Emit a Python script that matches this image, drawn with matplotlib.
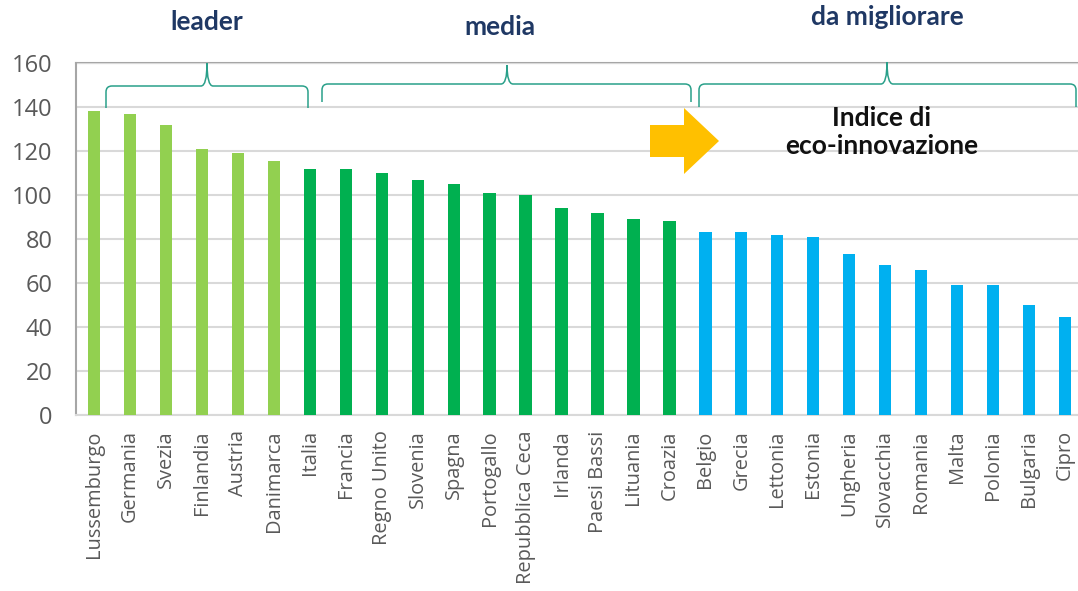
import matplotlib
matplotlib.use("Agg")
import matplotlib.pyplot as plt
from matplotlib.path import Path
from matplotlib.patches import PathPatch, FancyArrow
import numpy as np

countries = ["Lussemburgo", "Germania", "Svezia", "Finlandia", "Austria", "Danimarca",
             "Italia", "Francia", "Regno Unito", "Slovenia", "Spagna", "Portogallo",
             "Repubblica Ceca", "Irlanda", "Paesi Bassi", "Lituania", "Croazia",
             "Belgio", "Grecia", "Lettonia", "Estonia", "Ungheria", "Slovacchia",
             "Romania", "Malta", "Polonia", "Bulgaria", "Cipro"]
values = [138, 137, 132, 121, 119, 115.5,
          112, 112, 110, 107, 105, 101, 100, 94, 92, 89, 88,
          83, 83, 82, 81, 73, 68, 65.7, 59, 59, 49.8, 44.7]
groups = ["leader"] * 6 + ["media"] * 11 + ["da migliorare"] * 11
group_colors = {"leader": "#92D050", "media": "#00B050", "da migliorare": "#00B0F0"}
yticks = [0, 20, 40, 60, 80, 100, 120, 140, 160]

W, H = 1078, 591
fig = plt.figure(figsize=(W / 100, H / 100), dpi=100)
ax = fig.add_axes([76 / W, (H - 415) / H, (W - 76) / W, 352 / H])

x = np.arange(len(countries))
ax.bar(x, values, width=0.34, color=[group_colors[g] for g in groups], zorder=3)

ax.set_ylim(0, 160)
ax.set_xlim(-0.5, len(countries) - 0.5 - 0.14)
ax.set_yticks(yticks)
ax.set_yticklabels([str(t) for t in yticks], fontsize=17, color="#595959", family="Open Sans")
ax.set_xticks(x)
ax.set_xticklabels(countries, rotation=90, fontsize=14.4, color="#595959", family="Open Sans")
ax.tick_params(axis="both", length=0)
ax.tick_params(axis="x", pad=11)
ax.tick_params(axis="y", pad=17)
ax.grid(axis="y", color="#D9D9D9", linewidth=1.5, zorder=0)
for s in ["top", "right"]:
    ax.spines[s].set_visible(False)
ax.spines["left"].set_color("#A6A6A6")
ax.spines["left"].set_linewidth(1.5)
ax.spines["bottom"].set_color("#D9D9D9")
ax.spines["bottom"].set_linewidth(1.5)
ax.axhline(160, color="#A6A6A6", linewidth=1.5, zorder=1, clip_on=False)


def px(xp, yp):
    return (xp / W, 1 - yp / H)


def brace(x0, x1, xm, ybot_l, ybot_r, yh, ytop):
    r = 6
    verts = [px(x0, ybot_l), px(x0, yh + r), px(x0, yh), px(x0 + r, yh),
             px(xm - r, yh), px(xm, yh), px(xm, ytop),
             px(xm, ytop), px(xm, yh), px(xm + r, yh),
             px(x1 - r, yh), px(x1, yh), px(x1, yh + r), px(x1, ybot_r)]
    codes = [Path.MOVETO, Path.LINETO, Path.CURVE3, Path.CURVE3,
             Path.LINETO, Path.CURVE3, Path.CURVE3,
             Path.MOVETO, Path.CURVE3, Path.CURVE3,
             Path.LINETO, Path.CURVE3, Path.CURVE3, Path.LINETO]
    p = PathPatch(Path(verts, codes), transform=fig.transFigure, fill=False,
                  edgecolor="#2AA08A", linewidth=1.1)
    fig.add_artist(p)


brace(106, 308, 207, 108, 108, 86, 63)
brace(322, 691, 507, 102, 102, 84, 65)
brace(699, 1076, 887, 107, 107, 84, 62)

hdr = dict(fontsize=19, fontweight="bold", color="#1F3864", family="Lato",
           ha="center", va="center", transform=fig.transFigure)
fig.text(*px(207, 22), "leader", **hdr)
fig.text(*px(500, 27), "media", **hdr)
fig.text(*px(887, 17), "da migliorare", **hdr)

# yellow block arrow
ax_arrow = FancyArrow(650 / W, 1 - 141 / H, 34 / W, 0, width=32 / H, head_width=66 / H,
                      head_length=35 / W, length_includes_head=False,
                      transform=fig.transFigure, color="#FFC000", linewidth=0)
fig.add_artist(ax_arrow)

fig.text(*px(882, 132), "Indice di\neco-innovazione", fontsize=19, fontweight="bold",
         color="#111111", family="Lato", ha="center", va="center", linespacing=1.25,
         transform=fig.transFigure)

fig.savefig("out.png", dpi=100)
